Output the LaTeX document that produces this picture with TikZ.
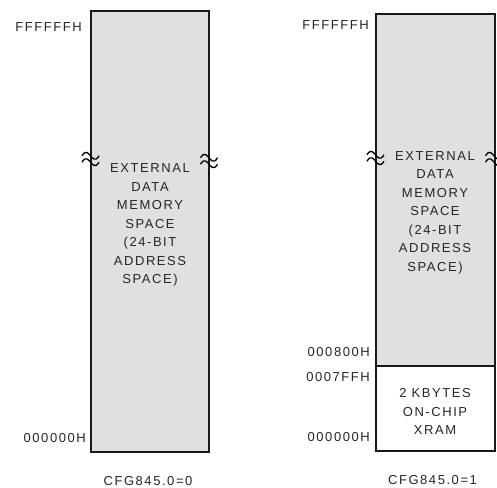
\documentclass[tikz,border=0pt]{standalone}
\usepackage{fontspec}
\setmainfont{Liberation Sans}[LetterSpace=12]
\begin{document}
\begin{tikzpicture}[x=1pt,y=-1pt,
  txt/.style={text=black!85,font=\fontsize{13}{18.5}\selectfont,inner sep=0pt},
  mem/.style={draw=black!90,line width=2pt,fill=black!12},
  xram/.style={draw=black!90,line width=2pt,fill=white},
  brk/.style={draw=black,line width=1.3pt}]
\useasboundingbox (0,0) rectangle (497,487);
% left map
\path[mem] (90.5,11.5) rectangle (209,451.5);
\node[txt,align=center] (ltext) at (150,225) {EXTERNAL\\DATA\\MEMORY\\SPACE\\(24-BIT\\ADDRESS\\SPACE)};
\node[txt,anchor=east] (lff) at (82,27) {FFFFFFH};
\node[txt,anchor=east] (l00) at (86,438.5) {000000H};
\node[txt] (lcfg) at (148,481) {CFG845.0=0};
% right map
\path[mem] (375.5,14.5) rectangle (494.5,366);
\path[xram] (375.5,366) rectangle (494.5,451);
\node[txt,align=center] (rtext) at (435,212.5) {EXTERNAL\\DATA\\MEMORY\\SPACE\\(24-BIT\\ADDRESS\\SPACE)};
\node[txt,align=center] (rram) at (435,411.5) {2 KBYTES\\ON-CHIP\\XRAM};
\node[txt,anchor=east] (rff) at (369,25) {FFFFFFH};
\node[txt,anchor=east] (r800) at (370,352) {000800H};
\node[txt,anchor=east] (r7ff) at (370,377) {0007FFH};
\node[txt,anchor=east] (r00) at (370,437.5) {000000H};
\node[txt] (rcfg) at (432.5,480) {CFG845.0=1};
% break marks
\foreach \cx/\cy in {90.5/159, 209/161, 375.5/158, 494/159}{
  \foreach \dy in {-3.2,3.2}{
    \draw[brk] (\cx-8.5,\cy+\dy) .. controls (\cx-4.5,\cy+\dy-7) and (\cx-1.5,\cy+\dy-1.5) .. (\cx,\cy+\dy)
               .. controls (\cx+1.5,\cy+\dy+1.5) and (\cx+4.5,\cy+\dy+7) .. (\cx+8.5,\cy+\dy);
  }
}
\end{tikzpicture}
\end{document}
